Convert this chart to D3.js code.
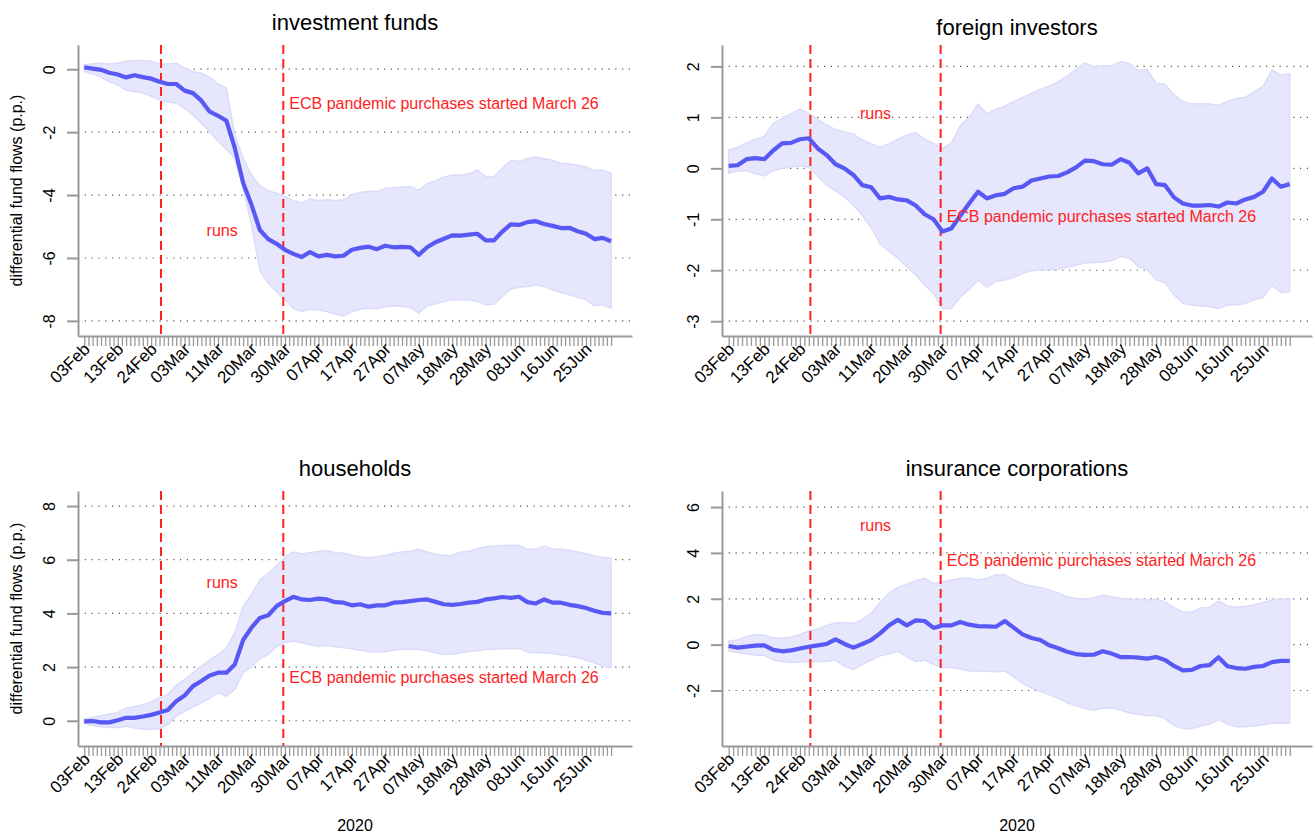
<!DOCTYPE html>
<html>
<head>
<meta charset="utf-8">
<script src="https://cdn.jsdelivr.net/npm/d3@7"></script>
<style>
body { margin: 0; background: #fff; }
svg { display: block; font-family: "Liberation Sans", Arial, sans-serif; }
</style>
</head>
<body>
<svg id="chart" width="1315" height="837"></svg>
<script>
// every other business day from 03Feb 2020 (index 0) to early July (index 126)
const dateLabels = ["03Feb", "13Feb", "24Feb", "03Mar", "11Mar", "20Mar", "30Mar", "07Apr",
    "17Apr", "27Apr", "07May", "18May", "28May", "08Jun", "16Jun", "25Jun"];
const nObs = 127;
const runsLine = 18.35;   // start of the runs window
const ecbLine = 47.6;     // ECB pandemic purchases

const fundsMean = [0.06, 0.02, -0.02, -0.11, -0.17, -0.26, -0.19, -0.25,
    -0.30, -0.40, -0.47, -0.47, -0.68, -0.76, -1.00, -1.35,
    -1.48, -1.64, -2.50, -3.62, -4.31, -5.11, -5.40, -5.55,
    -5.74, -5.87, -5.97, -5.81, -5.95, -5.90, -5.95, -5.93,
    -5.74, -5.68, -5.64, -5.72, -5.61, -5.66, -5.65, -5.66,
    -5.90, -5.66, -5.50, -5.39, -5.28, -5.29, -5.26, -5.23,
    -5.44, -5.44, -5.16, -4.93, -4.95, -4.86, -4.83, -4.92,
    -4.98, -5.05, -5.04, -5.15, -5.23, -5.40, -5.36, -5.47];
const fundsHi = [0.14, 0.17, 0.19, 0.17, 0.19, 0.25, 0.28, 0.28,
    0.25, 0.17, 0.17, 0.19, 0.03, -0.07, -0.13, -0.25,
    -0.47, -0.60, -2.10, -2.83, -3.36, -3.71, -3.86, -3.94,
    -4.05, -4.17, -4.26, -4.13, -4.17, -4.15, -4.17, -4.15,
    -3.99, -3.92, -3.89, -3.89, -3.79, -3.77, -3.75, -3.73,
    -3.85, -3.64, -3.54, -3.43, -3.36, -3.36, -3.33, -3.20,
    -3.41, -3.43, -3.15, -2.90, -2.93, -2.84, -2.80, -2.84,
    -2.90, -2.99, -3.01, -3.05, -3.11, -3.22, -3.20, -3.31];
const fundsLo = [-0.07, -0.15, -0.25, -0.39, -0.50, -0.66, -0.71, -0.76,
    -0.85, -0.97, -1.04, -1.08, -1.24, -1.45, -1.72, -1.98,
    -2.30, -2.54, -2.83, -3.78, -4.95, -6.40, -6.80, -7.07,
    -7.33, -7.60, -7.70, -7.63, -7.65, -7.70, -7.78, -7.84,
    -7.70, -7.63, -7.60, -7.61, -7.54, -7.52, -7.54, -7.57,
    -7.75, -7.52, -7.46, -7.38, -7.33, -7.33, -7.33, -7.38,
    -7.49, -7.47, -7.22, -6.99, -6.93, -6.91, -6.85, -6.91,
    -7.01, -7.10, -7.17, -7.25, -7.33, -7.52, -7.49, -7.60];

const foreignMean = [0.05, 0.06, 0.18, 0.20, 0.18, 0.35, 0.49, 0.50,
    0.57, 0.59, 0.39, 0.26, 0.08, 0.00, -0.13, -0.33,
    -0.37, -0.59, -0.56, -0.61, -0.63, -0.73, -0.90, -1.00,
    -1.24, -1.18, -0.93, -0.69, -0.46, -0.59, -0.53, -0.50,
    -0.39, -0.36, -0.24, -0.20, -0.16, -0.15, -0.08, 0.02,
    0.15, 0.14, 0.08, 0.07, 0.18, 0.11, -0.10, 0.00,
    -0.31, -0.33, -0.57, -0.69, -0.73, -0.73, -0.72, -0.75,
    -0.67, -0.69, -0.61, -0.56, -0.46, -0.20, -0.36, -0.31];
const foreignHi = [0.36, 0.41, 0.50, 0.57, 0.62, 0.88, 0.98, 1.07,
    1.16, 1.08, 0.96, 0.85, 0.76, 0.72, 0.67, 0.56,
    0.48, 0.41, 0.48, 0.57, 0.65, 0.70, 0.57, 0.49,
    0.39, 0.49, 0.83, 1.00, 1.26, 1.07, 1.16, 1.22,
    1.31, 1.39, 1.47, 1.55, 1.61, 1.70, 1.81, 1.93,
    2.07, 1.99, 2.02, 2.01, 2.09, 2.06, 1.92, 1.94,
    1.67, 1.65, 1.44, 1.31, 1.26, 1.27, 1.26, 1.24,
    1.31, 1.37, 1.39, 1.50, 1.61, 1.93, 1.83, 1.86];
const foreignLo = [-0.10, -0.05, -0.05, -0.10, -0.15, -0.05, 0.00, 0.03,
    0.05, 0.02, -0.15, -0.33, -0.44, -0.56, -0.72, -0.92,
    -1.16, -1.48, -1.63, -1.76, -1.93, -2.09, -2.29, -2.45,
    -2.75, -2.75, -2.53, -2.37, -2.20, -2.33, -2.22, -2.19,
    -2.14, -2.06, -2.01, -1.99, -1.99, -1.98, -1.94, -1.90,
    -1.86, -1.85, -1.84, -1.81, -1.73, -1.76, -1.93, -1.99,
    -2.19, -2.24, -2.48, -2.65, -2.68, -2.70, -2.71, -2.75,
    -2.68, -2.68, -2.65, -2.58, -2.53, -2.29, -2.44, -2.42];

const householdsMean = [-0.02, -0.01, -0.06, -0.06, 0.02, 0.11, 0.11, 0.16,
    0.22, 0.31, 0.40, 0.73, 0.94, 1.29, 1.48, 1.69,
    1.79, 1.79, 2.10, 3.01, 3.47, 3.83, 3.93, 4.27,
    4.46, 4.62, 4.52, 4.50, 4.55, 4.52, 4.42, 4.40,
    4.30, 4.34, 4.25, 4.30, 4.30, 4.40, 4.42, 4.46,
    4.50, 4.52, 4.43, 4.34, 4.32, 4.35, 4.40, 4.43,
    4.52, 4.56, 4.61, 4.58, 4.62, 4.42, 4.37, 4.52,
    4.40, 4.40, 4.32, 4.27, 4.20, 4.10, 4.02, 4.00];
const householdsHi = [0.07, 0.12, 0.19, 0.25, 0.30, 0.48, 0.52, 0.60,
    0.70, 0.86, 0.98, 1.32, 1.54, 1.79, 2.04, 2.26,
    2.47, 2.72, 3.28, 4.25, 4.71, 5.24, 5.49, 5.76,
    6.11, 6.29, 6.21, 6.26, 6.31, 6.34, 6.26, 6.24,
    6.16, 6.11, 6.07, 6.11, 6.16, 6.24, 6.29, 6.32,
    6.39, 6.29, 6.21, 6.16, 6.16, 6.29, 6.31, 6.41,
    6.48, 6.51, 6.53, 6.53, 6.53, 6.39, 6.39, 6.51,
    6.39, 6.39, 6.34, 6.29, 6.21, 6.14, 6.09, 6.06];
const householdsLo = [-0.10, -0.17, -0.22, -0.25, -0.25, -0.20, -0.27, -0.32,
    -0.32, -0.30, -0.14, 0.17, 0.35, 0.52, 0.67, 0.84,
    1.04, 0.92, 1.17, 1.79, 2.01, 2.31, 2.47, 2.76,
    2.91, 2.97, 2.91, 2.83, 2.78, 2.81, 2.76, 2.72,
    2.68, 2.63, 2.58, 2.56, 2.58, 2.63, 2.66, 2.66,
    2.66, 2.61, 2.53, 2.47, 2.48, 2.53, 2.58, 2.61,
    2.66, 2.66, 2.68, 2.68, 2.70, 2.56, 2.53, 2.53,
    2.51, 2.46, 2.41, 2.35, 2.26, 2.16, 2.04, 1.98];

const insuranceMean = [-0.06, -0.13, -0.09, -0.04, -0.03, -0.23, -0.29, -0.25,
    -0.17, -0.09, -0.03, 0.03, 0.23, 0.03, -0.13, 0.03,
    0.20, 0.49, 0.84, 1.08, 0.84, 1.06, 1.03, 0.73,
    0.84, 0.84, 0.99, 0.87, 0.81, 0.80, 0.78, 1.03,
    0.74, 0.45, 0.29, 0.20, -0.03, -0.16, -0.31, -0.41,
    -0.45, -0.44, -0.29, -0.39, -0.54, -0.54, -0.57, -0.61,
    -0.54, -0.67, -0.93, -1.12, -1.10, -0.93, -0.89, -0.55,
    -0.94, -1.02, -1.05, -0.97, -0.93, -0.76, -0.71, -0.71];
const insuranceHi = [0.16, 0.20, 0.35, 0.44, 0.41, 0.29, 0.29, 0.32,
    0.44, 0.61, 0.67, 0.84, 0.96, 0.96, 0.93, 1.10,
    1.37, 1.83, 2.24, 2.49, 2.62, 2.79, 2.89, 2.67,
    2.73, 2.82, 2.88, 2.91, 2.82, 2.88, 3.05, 3.05,
    2.82, 2.66, 2.56, 2.49, 2.38, 2.24, 2.09, 2.01,
    1.98, 2.05, 2.15, 2.09, 2.02, 1.98, 1.98, 1.95,
    1.98, 1.86, 1.61, 1.42, 1.42, 1.60, 1.63, 1.90,
    1.69, 1.63, 1.66, 1.74, 1.83, 1.95, 1.98, 2.01];
const insuranceLo = [-0.28, -0.33, -0.41, -0.45, -0.47, -0.67, -0.74, -0.78,
    -0.76, -0.73, -0.74, -0.73, -0.67, -0.93, -1.08, -0.87,
    -0.67, -0.49, -0.41, -0.29, -0.52, -0.73, -0.67, -0.86,
    -1.00, -1.00, -1.05, -1.15, -1.15, -1.16, -1.18, -1.15,
    -1.41, -1.69, -1.88, -2.03, -2.18, -2.34, -2.53, -2.67,
    -2.79, -2.85, -2.76, -2.75, -2.85, -2.98, -3.04, -3.10,
    -3.08, -3.23, -3.52, -3.66, -3.66, -3.55, -3.47, -3.26,
    -3.46, -3.58, -3.58, -3.55, -3.49, -3.43, -3.43, -3.43];

const panels = [
    {title: "investment funds", mean: fundsMean, hi: fundsHi, lo: fundsLo,
     left: 78, right: 632, top: 45, bottom: 336, titleY: 30,
     yDomain: [-8.48, 0.77], yTicks: [0, -2, -4, -6, -8],
     runsY: -5.30, ecbY: -1.27, ylab: true, year: false},
    {title: "foreign investors", mean: foreignMean, hi: foreignHi, lo: foreignLo,
     left: 722, right: 1312, top: 45, bottom: 336, titleY: 35,
     yDomain: [-3.29, 2.42], yTicks: [2, 1, 0, -1, -2, -3],
     runsY: 0.96, ecbY: -1.05, ylab: false, year: false},
    {title: "households", mean: householdsMean, hi: householdsHi, lo: householdsLo,
     left: 78, right: 632, top: 491, bottom: 746, titleY: 476,
     yDomain: [-0.94, 8.56], yTicks: [8, 6, 4, 2, 0],
     runsY: 4.95, ecbY: 1.39, ylab: true, year: true},
    {title: "insurance corporations", mean: insuranceMean, hi: insuranceHi, lo: insuranceLo,
     left: 722, right: 1312, top: 491, bottom: 746, titleY: 476,
     yDomain: [-4.42, 6.70], yTicks: [6, 4, 2, 0, -2],
     runsY: 4.95, ecbY: 3.43, ylab: false, year: true}
];

const svg = d3.select("#chart");
const red = "#ff2222";

panels.forEach(p => drawPanel(p));

function drawPanel(p) {
    let x = d3.scaleLinear().domain([-1.5, 131]).range([p.left, p.right]);
    let y = d3.scaleLinear().domain(p.yDomain).range([p.bottom, p.top]);
    let obs = p.mean.map((d, i) => i * 2);
    let g = svg.append("g");

    // dotted grid
    g.append("g").selectAll("line")
        .data(p.yTicks)
        .join("line")
        .attr("x1", p.left).attr("x2", p.right)
        .attr("y1", d => y(d)).attr("y2", d => y(d))
        .attr("stroke", "#555")
        .attr("stroke-width", 1.2)
        .attr("stroke-dasharray", "1.2,5.6");

    // confidence band
    let area = d3.area()
        .x((d, i) => x(obs[i]))
        .y0((d, i) => y(p.lo[i]))
        .y1((d, i) => y(p.hi[i]));
    g.append("path")
        .datum(p.mean)
        .attr("d", area)
        .attr("fill", "#e6e6fc")
        .attr("stroke", "#dcdcfa")
        .attr("stroke-width", 1.5);

    // event lines
    g.append("g").selectAll("line")
        .data([runsLine, ecbLine])
        .join("line")
        .attr("x1", d => x(d)).attr("x2", d => x(d))
        .attr("y1", p.top).attr("y2", p.bottom)
        .attr("stroke", red)
        .attr("stroke-width", 2)
        .attr("stroke-dasharray", "9,5");

    // point estimate
    let line = d3.line()
        .x((d, i) => x(obs[i]))
        .y(d => y(d));
    g.append("path")
        .datum(p.mean)
        .attr("d", line)
        .attr("fill", "none")
        .attr("stroke", "#5858f4")
        .attr("stroke-width", 4.2)
        .attr("stroke-linejoin", "round");

    // annotations
    g.append("text")
        .attr("x", (x(runsLine) + x(ecbLine)) / 2)
        .attr("y", y(p.runsY))
        .attr("text-anchor", "middle")
        .attr("font-size", 16)
        .attr("fill", red)
        .text("runs");
    g.append("text")
        .attr("x", x(ecbLine) + 6)
        .attr("y", y(p.ecbY))
        .attr("font-size", 16)
        .attr("fill", red)
        .text("ECB pandemic purchases started March 26");

    // x axis: a tick per observation, a label every 8th
    let xAxis = d3.axisBottom(x)
        .tickValues(d3.range(nObs))
        .tickSize(10)
        .tickSizeOuter(0)
        .tickFormat(i => (i % 8 === 0 && i / 8 < dateLabels.length) ? dateLabels[i / 8] : "");
    let gx = g.append("g")
        .attr("transform", `translate(0,${p.bottom})`)
        .call(xAxis);
    gx.select(".domain").attr("stroke", "#999").attr("stroke-width", 2);
    gx.selectAll(".tick line").attr("stroke", "#999").attr("stroke-width", 1.3);
    gx.selectAll(".tick text")
        .attr("x", 0).attr("y", 0).attr("dy", "0.35em")
        .attr("transform", "translate(2,10) rotate(-45)")
        .attr("text-anchor", "end")
        .attr("font-size", 17)
        .attr("font-family", null)
        .attr("fill", "#000");

    // y axis
    let yAxis = d3.axisLeft(y)
        .tickValues(p.yTicks)
        .tickSize(11)
        .tickSizeOuter(0)
        .tickFormat(d => String(d));
    let gy = g.append("g")
        .attr("transform", `translate(${p.left},0)`)
        .call(yAxis);
    gy.select(".domain").attr("stroke", "#999").attr("stroke-width", 2);
    gy.selectAll(".tick line").attr("stroke", "#999").attr("stroke-width", 2);
    gy.selectAll(".tick text")
        .attr("x", 0).attr("dy", 0)
        .attr("transform", "translate(-23,0) rotate(-90)")
        .attr("text-anchor", "middle")
        .attr("font-size", 16)
        .attr("font-family", null)
        .attr("fill", "#000");

    // titles
    svg.append("text")
        .attr("x", (p.left + p.right) / 2)
        .attr("y", p.titleY)
        .attr("text-anchor", "middle")
        .attr("font-size", 22)
        .text(p.title);

    if (p.ylab) {
        svg.append("text")
            .attr("transform", `translate(22,${(p.top + p.bottom) / 2}) rotate(-90)`)
            .attr("text-anchor", "middle")
            .attr("font-size", 16)
            .text("differential fund flows (p.p.)");
    }
    if (p.year) {
        svg.append("text")
            .attr("x", (p.left + p.right) / 2)
            .attr("y", 831)
            .attr("text-anchor", "middle")
            .attr("font-size", 16)
            .text("2020");
    }
}
</script>
</body>
</html>
